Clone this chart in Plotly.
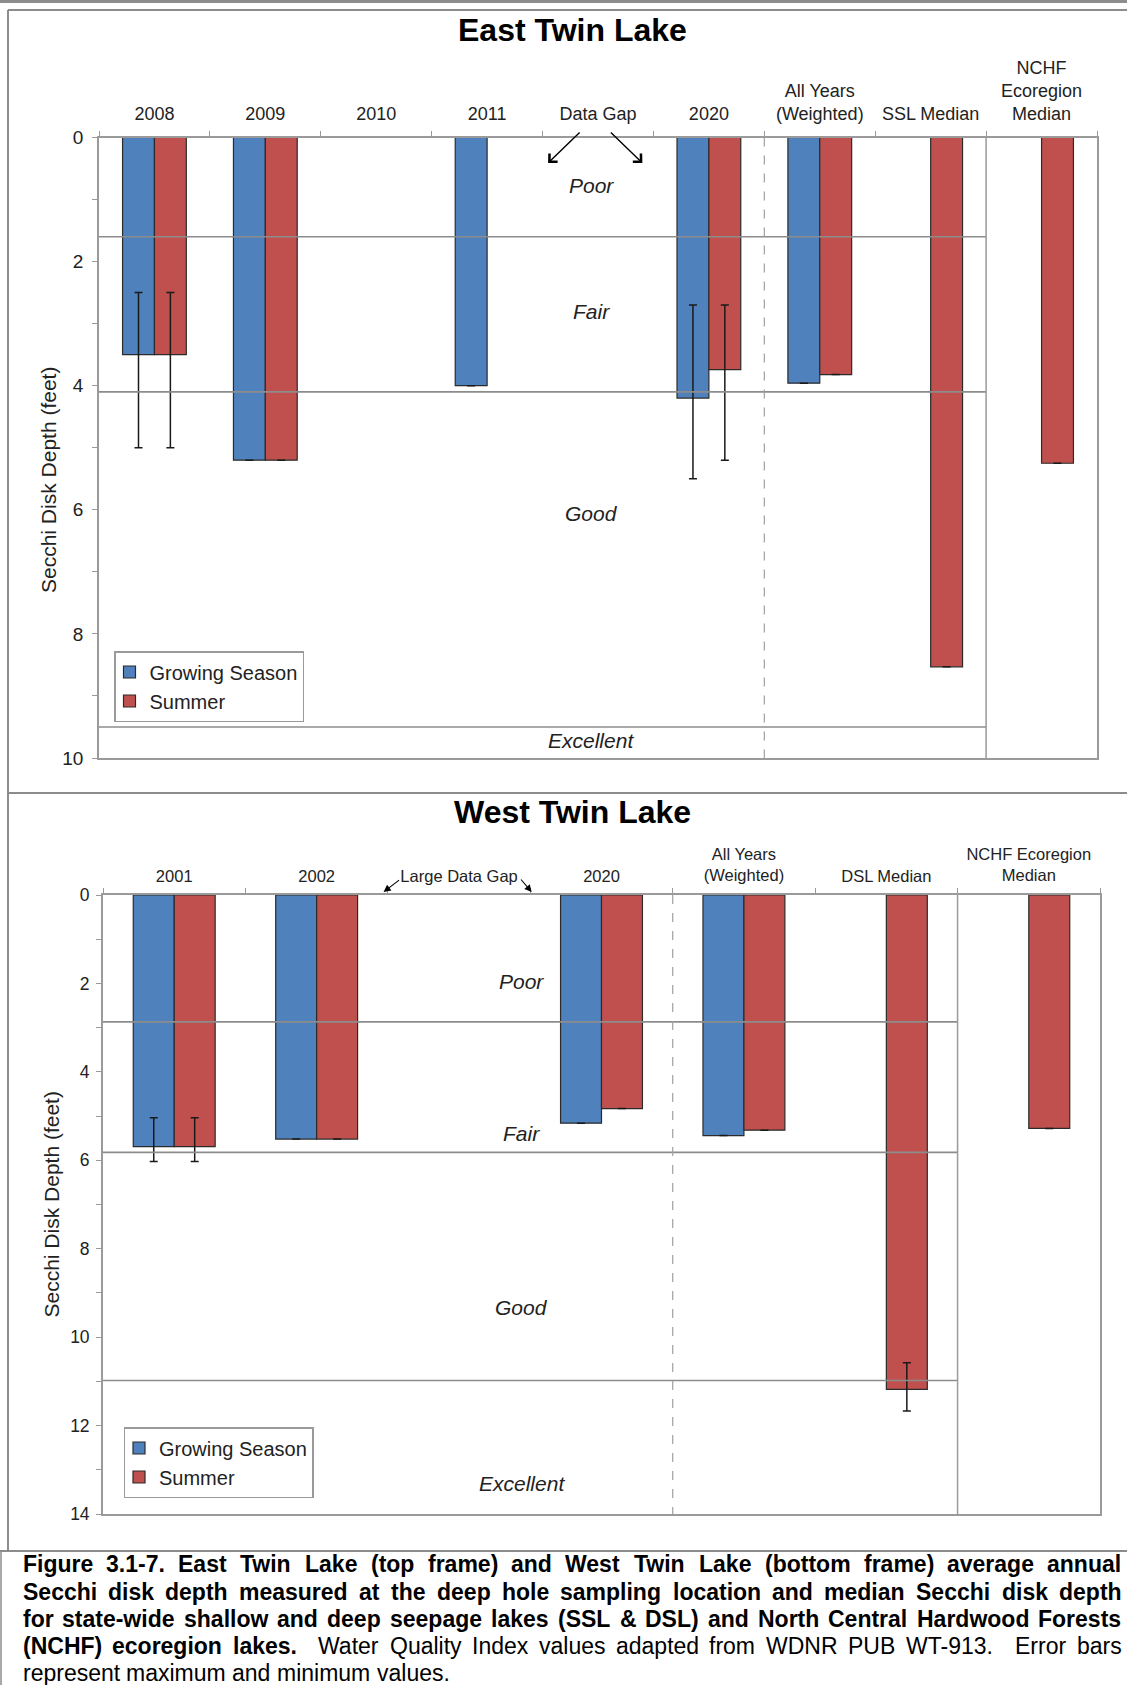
import plotly.graph_objects as go

W, H = 1127, 1685
FONT = "Liberation Sans, Arial, sans-serif"
BLUE = "#4F81BD"
RED = "#C0504D"
EDGE = "#2b2b2b"
FRAME = "#8c8c8c"
AXIS = "#9a9a9a"
TXT = "#222222"

# ---------------- East Twin Lake ----------------
east_categories = ["2008", "2009", "2010", "2011", "Data Gap", "2020",
                   "All Years<br>(Weighted)", "SSL Median", "NCHF<br>Ecoregion<br>Median"]
east_growing = [3.5, 5.2, None, 4.0, None, 4.2, 3.96, None, None]
east_summer = [3.5, 5.2, None, None, None, 3.74, 3.82, 8.53, 5.25]
east_growing_min = [2.5, None, None, None, None, 2.7, None, None, None]
east_growing_max = [5.0, None, None, None, None, 5.5, None, None, None]
east_summer_min = [2.5, None, None, None, None, 2.7, None, None, None]
east_summer_max = [5.0, None, None, None, None, 5.2, None, None, None]
east_thresholds = [1.6, 4.1, 9.5]
east_quality_depth = [0.78, 2.81, 6.06, 9.71]

# ---------------- West Twin Lake ----------------
west_categories = ["2001", "2002", "Large Data Gap", "2020",
                   "All Years<br>(Weighted)", "DSL Median", "NCHF Ecoregion<br>Median"]
west_growing = [5.69, 5.52, None, 5.16, 5.44, None, None]
west_summer = [5.69, 5.52, None, 4.83, 5.32, 11.18, 5.28]
west_growing_min = [5.04, None, None, None, None, None, None]
west_growing_max = [6.03, None, None, None, None, None, None]
west_summer_min = [5.04, None, None, None, None, 10.58, None]
west_summer_max = [6.03, None, None, None, None, 11.67, None]
west_thresholds = [2.87, 5.82, 10.98]
west_quality_depth = [1.95, 5.40, 9.33, 13.32]

quality_labels = ["Poor", "Fair", "Good", "Excellent"]
series_names = ["Growing Season", "Summer"]

caption_lines = [
    [("Figure 3.1-7. East Twin Lake (top frame) and West Twin Lake (bottom frame) average annual", True)],
    [("Secchi disk depth measured at the deep hole sampling location and median Secchi disk depth", True)],
    [("for state-wide shallow and deep seepage lakes (SSL & DSL) and North Central Hardwood Forests", True)],
    [("(NCHF) ecoregion lakes.", True),
     ("  Water Quality Index values adapted from WDNR PUB WT-913.  Error bars", False)],
    [("represent maximum and minimum values.", False)],
]


def px_x(px):
    return px / W


def px_y(py):
    return 1 - py / H


def err_plus(vals, hi):
    return [None if v is None or h is None else h - v for v, h in zip(vals, hi)]


def err_minus(vals, lo):
    return [None if v is None or l is None else v - l for v, l in zip(vals, lo)]


fig = go.Figure()


def add_bars(cats, grow, summ, gmin, gmax, smin, smax, xa, ya, legend):
    for name, vals, lo, hi, col in [
        (series_names[0], grow, gmin, gmax, BLUE),
        (series_names[1], summ, smin, smax, RED),
    ]:
        fig.add_trace(go.Bar(
            x=cats, y=vals, name=name, xaxis=xa, yaxis=ya, legend=legend,
            marker=dict(color=col, line=dict(color=EDGE, width=1.2)),
            error_y=dict(type="data", symmetric=False,
                         array=err_plus(vals, hi), arrayminus=err_minus(vals, lo),
                         color="#1a1a1a", thickness=1.5, width=4),
            hoverinfo="skip",
        ))


add_bars(east_categories, east_growing, east_summer, east_growing_min, east_growing_max,
         east_summer_min, east_summer_max, "x", "y", "legend")
add_bars(west_categories, west_growing, west_summer, west_growing_min, west_growing_max,
         west_summer_min, west_summer_max, "x2", "y2", "legend2")


def xaxis_cfg(dom, ncat, size, standoff):
    return dict(domain=dom, side="top", type="category", tickson="boundaries",
                ticks="outside", ticklen=5, tickcolor=AXIS, tickwidth=1.2,
                ticklabelstandoff=standoff, automargin=False,
                showline=True, linecolor=AXIS, linewidth=1.8, mirror=True,
                showgrid=False, zeroline=False, range=[-0.5, ncat - 0.5],
                tickfont=dict(size=size, color=TXT, family=FONT), fixedrange=True)


def yaxis_cfg(dom, ymax, size, standoff):
    vals = list(range(0, ymax + 1))
    return dict(domain=dom, range=[ymax, 0], tickvals=vals,
                ticktext=[str(v) if v % 2 == 0 else "" for v in vals],
                ticks="outside", ticklen=5, tickcolor=AXIS, tickwidth=1.2,
                ticklabelstandoff=standoff, automargin=False,
                showline=True, linecolor=AXIS, linewidth=1.8, mirror=True,
                showgrid=False, zeroline=False,
                tickfont=dict(size=size, color=TXT, family=FONT), fixedrange=True)


def legend_cfg(px, py):
    return dict(x=px_x(px), y=px_y(py), xanchor="left", yanchor="top",
                bordercolor=AXIS, borderwidth=1.5, bgcolor="white",
                font=dict(size=20, color=TXT, family=FONT), itemwidth=30,
                indentation=-6)


layout = dict(
    width=W, height=H, margin=dict(l=0, r=0, t=0, b=0, pad=0, autoexpand=False),
    paper_bgcolor="white", plot_bgcolor="white",
    barmode="group", bargap=0.425, bargroupgap=0,
    font=dict(family=FONT, color=TXT),
    xaxis=dict(xaxis_cfg([px_x(99), px_x(1097)], len(east_categories), 18, 8), anchor="y"),
    yaxis=dict(yaxis_cfg([px_y(758), px_y(137.5)], 10, 19, 5), anchor="x"),
    xaxis2=dict(xaxis_cfg([px_x(103), px_x(1100)], len(west_categories), 16.5, 5), anchor="y2"),
    yaxis2=dict(yaxis_cfg([px_y(1514), px_y(895)], 14, 17.5, 3), anchor="x2"),
    legend=legend_cfg(114, 651),
    legend2=legend_cfg(123.5, 1427),
)
fig.update_layout(**layout)

shapes = []
annotations = []

# Water quality boundaries, category dividers
for thr in east_thresholds:
    shapes.append(dict(type="line", xref="x", yref="y", x0=-0.5, x1=7.5, y0=thr, y1=thr,
                       line=dict(color=FRAME, width=1.6), layer="above"))
for thr in west_thresholds:
    shapes.append(dict(type="line", xref="x2", yref="y2", x0=-0.5, x1=5.5, y0=thr, y1=thr,
                       line=dict(color=FRAME, width=1.6), layer="above"))
shapes += [
    dict(type="line", xref="x", yref="y", x0=5.5, x1=5.5, y0=0, y1=10,
         line=dict(color="#a0a0a0", width=1.2, dash="dash"), layer="above"),
    dict(type="line", xref="x", yref="y", x0=7.5, x1=7.5, y0=0, y1=10,
         line=dict(color=AXIS, width=1.5), layer="above"),
    dict(type="line", xref="x2", yref="y2", x0=3.5, x1=3.5, y0=0, y1=14,
         line=dict(color="#a0a0a0", width=1.2, dash="dash"), layer="above"),
    dict(type="line", xref="x2", yref="y2", x0=5.5, x1=5.5, y0=0, y1=14,
         line=dict(color=AXIS, width=1.5), layer="above"),
]

# Page frame
shapes += [
    dict(type="rect", xref="paper", yref="paper", x0=0, x1=1, y0=px_y(3), y1=1,
         fillcolor=FRAME, line=dict(width=0)),
    dict(type="line", xref="paper", yref="paper", x0=px_x(8), x1=1, y0=px_y(10), y1=px_y(10),
         line=dict(color=FRAME, width=2)),
    dict(type="line", xref="paper", yref="paper", x0=px_x(8), x1=px_x(8), y0=px_y(10), y1=px_y(1551),
         line=dict(color=FRAME, width=2)),
    dict(type="line", xref="paper", yref="paper", x0=px_x(8), x1=1, y0=px_y(793), y1=px_y(793),
         line=dict(color=FRAME, width=2)),
    dict(type="line", xref="paper", yref="paper", x0=0, x1=1, y0=px_y(1551), y1=px_y(1551),
         line=dict(color=FRAME, width=2)),
    dict(type="line", xref="paper", yref="paper", x0=px_x(1), x1=px_x(1), y0=px_y(1551), y1=0,
         line=dict(color=FRAME, width=1.5)),
]

# Titles
annotations += [
    dict(text="<b>East Twin Lake</b>", xref="paper", yref="paper", x=px_x(572), y=px_y(30),
         xanchor="center", yanchor="middle", showarrow=False,
         font=dict(size=32, color="black", family=FONT)),
    dict(text="<b>West Twin Lake</b>", xref="paper", yref="paper", x=px_x(572), y=px_y(812),
         xanchor="center", yanchor="middle", showarrow=False,
         font=dict(size=32, color="black", family=FONT)),
    dict(text="Secchi Disk Depth (feet)", xref="paper", yref="paper", x=px_x(48), y=px_y(480),
         xanchor="center", yanchor="middle", textangle=-90, showarrow=False,
         font=dict(size=21, color=TXT, family=FONT)),
    dict(text="Secchi Disk Depth (feet)", xref="paper", yref="paper", x=px_x(50.5), y=px_y(1205),
         xanchor="center", yanchor="middle", textangle=-90, showarrow=False,
         font=dict(size=21, color=TXT, family=FONT)),
]

# Quality class labels
for lab, d in zip(quality_labels, east_quality_depth):
    annotations.append(dict(text=lab, xref="x", yref="y", x=3.94, y=d, showarrow=False,
                            xanchor="center", yanchor="middle",
                            font=dict(size=21, color=TXT, family=FONT, style="italic")))
for lab, d in zip(quality_labels, west_quality_depth):
    annotations.append(dict(text=lab, xref="x2", yref="y2", x=2.44, y=d, showarrow=False,
                            xanchor="center", yanchor="middle",
                            font=dict(size=21, color=TXT, family=FONT, style="italic")))

# Data gap arrows
annotations += [
    dict(text="", xref="x", yref="y", x=3.55, y=0.41, ax=33, ay=-32, showarrow=True,
         arrowhead=4, arrowsize=1.6, arrowwidth=1.4, arrowcolor="black", standoff=0),
    dict(text="", xref="x", yref="y", x=4.4, y=0.41, ax=-33, ay=-32, showarrow=True,
         arrowhead=4, arrowsize=1.6, arrowwidth=1.4, arrowcolor="black", standoff=0),
    dict(text="", xref="x2", yref="paper", x=1.47, y=px_y(892), ax=17, ay=-13, showarrow=True,
         arrowhead=2, arrowsize=1.3, arrowwidth=1.1, arrowcolor="black", standoff=0),
    dict(text="", xref="x2", yref="paper", x=2.51, y=px_y(892), ax=-12, ay=-14, showarrow=True,
         arrowhead=2, arrowsize=1.3, arrowwidth=1.1, arrowcolor="black", standoff=0),
]

# ---------------- Caption (justified, word by word) ----------------
REG, BOLD = {}, {}


def setw(table, chars, w):
    for c in chars:
        table[c] = w


setw(REG, " ftI.,/:;![]", 278)
setw(REG, "ijl", 222)
setw(REG, "r-()", 333)
setw(REG, "ckszvxyJ", 500)
setw(REG, "abdeghnopquL0123456789", 556)
setw(REG, "mM", 833)
setw(REG, "wCDHNRU", 722)
setw(REG, "ABEKPSVXY&", 667)
setw(REG, "FTZ", 611)
setw(REG, "GOQ", 778)
setw(REG, "W", 944)

setw(BOLD, " ijlI.,", 278)
setw(BOLD, "ft-():;", 333)
setw(BOLD, "r", 389)
setw(BOLD, "acekvsxyJ0123456789", 556)
setw(BOLD, "z", 500)
setw(BOLD, "bdghnopquFLTZ", 611)
setw(BOLD, "wGOQ", 778)
setw(BOLD, "m", 889)
setw(BOLD, "ABCDHKNRU&", 722)
setw(BOLD, "EPSVXY", 667)
setw(BOLD, "M", 833)
setw(BOLD, "W", 944)

CAP_SIZE = 23
CAP_LEFT, CAP_RIGHT = 21.5, 1120.5
CAP_Y = [1564, 1591.5, 1618.5, 1645.5, 1672.5]


def text_w(s, bold):
    table = BOLD if bold else REG
    return sum(table.get(c, 556) for c in s) * CAP_SIZE / 1000.0


def split_words(segments):
    out, gap, cur, cur_bold = [], 0, "", False
    for text, bold in segments:
        for ch in text:
            if ch == " ":
                if cur:
                    out.append((cur, cur_bold, gap))
                    cur, gap = "", 0
                gap += 1
            else:
                if not cur:
                    cur_bold = bold
                cur += ch
    if cur:
        out.append((cur, cur_bold, gap))
    return out


for i, segs in enumerate(caption_lines):
    words = split_words(segs)
    justify = i < len(caption_lines) - 1
    total = sum(text_w(w, b) for w, b, _ in words)
    nsp = sum(g for _, _, g in words[1:])
    sp = (CAP_RIGHT - CAP_LEFT - total) / nsp if justify else 0.278 * CAP_SIZE
    x = CAP_LEFT
    for w, b, g in words:
        x += g * sp
        label = w.replace("&", "&amp;")
        if b:
            label = "<b>" + label + "</b>"
        annotations.append(dict(text=label, xref="paper", yref="paper", x=px_x(x), y=px_y(CAP_Y[i]),
                                xanchor="left", yanchor="middle", showarrow=False, borderpad=0,
                                font=dict(size=CAP_SIZE, color="black", family=FONT)))
        x += text_w(w, b)

fig.update_layout(shapes=shapes, annotations=annotations)
fig.write_html("out.html")
